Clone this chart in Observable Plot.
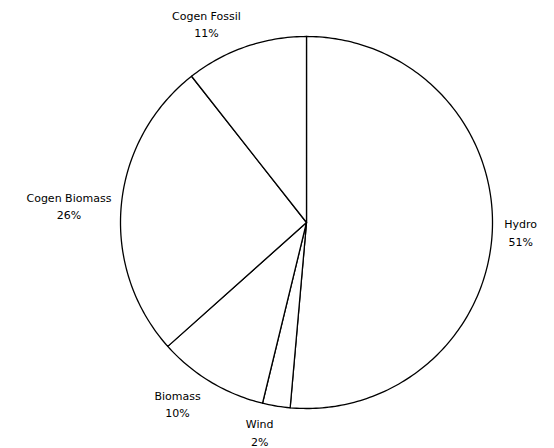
<!DOCTYPE html>
<html>
<head>
<meta charset="utf-8">
<script src="https://cdn.jsdelivr.net/npm/d3@7"></script>
<script src="https://cdn.jsdelivr.net/npm/@observablehq/plot@0.6"></script>
<style>
  html, body { margin: 0; padding: 0; background: #fff; }
  #chart { width: 554px; height: 448px; }
</style>
</head>
<body>
<div id="chart"></div>
<script>
const categories = ["Hydro", "Wind", "Biomass", "Cogen Biomass", "Cogen Fossil"];
const shares = [51.4, 2.4, 9.6, 26.0, 10.6];

const total = d3.sum(shares);
let acc = 0;
const slices = categories.map((name, i) => {
  const a0 = acc / total * 2 * Math.PI;
  acc += shares[i];
  const a1 = acc / total * 2 * Math.PI;
  return {name, value: shares[i], a0, a1, mid: (a0 + a1) / 2};
});

// outline points of each wedge (clockwise from 12 o'clock); y up is positive
const outline = [];
for (const s of slices) {
  outline.push({name: s.name, x: 0, y: 0});
  const n = Math.max(2, Math.ceil((s.a1 - s.a0) / (Math.PI / 180)));
  for (let k = 0; k <= n; k++) {
    const a = s.a0 + (s.a1 - s.a0) * k / n;
    outline.push({name: s.name, x: Math.sin(a), y: Math.cos(a)});
  }
}

const FONT = "11px 'DejaVu Sans'";
const ctx = document.createElement("canvas").getContext("2d");
ctx.font = FONT;

const cx = 306, cyPx = 222, R = 186;
const labels = slices.map(s => {
  const sx = Math.sin(s.mid), cy = Math.cos(s.mid);
  const r = 1.07 + 0.07 * Math.abs(cy);
  const hw = ctx.measureText(s.name).width / 2;
  return {
    text: `${s.name}\n${Math.round(s.value)}%`,
    x: (sx * R * r + Math.sign(sx) * hw * 0.9) / R,
    y: cy * r
  };
});

const chart = Plot.plot({
  width: 554,
  height: 448,
  margin: 0,
  x: {domain: [-1, 1], range: [cx - R, cx + R], axis: null},
  y: {domain: [-1, 1], range: [cyPx + R, cyPx - R], axis: null},
  style: {fontFamily: "DejaVu Sans", fontSize: "11px", background: "#fff"},
  marks: [
    Plot.line(outline, {x: "x", y: "y", z: "name", curve: "linear-closed",
      fill: "white", stroke: "black", strokeWidth: 1.3}),
    Plot.text(labels, {x: "x", y: "y", text: "text",
      textAnchor: "middle", lineHeight: 1.6, fill: "black"})
  ]
});
document.getElementById("chart").appendChild(chart);
</script>
</body>
</html>
